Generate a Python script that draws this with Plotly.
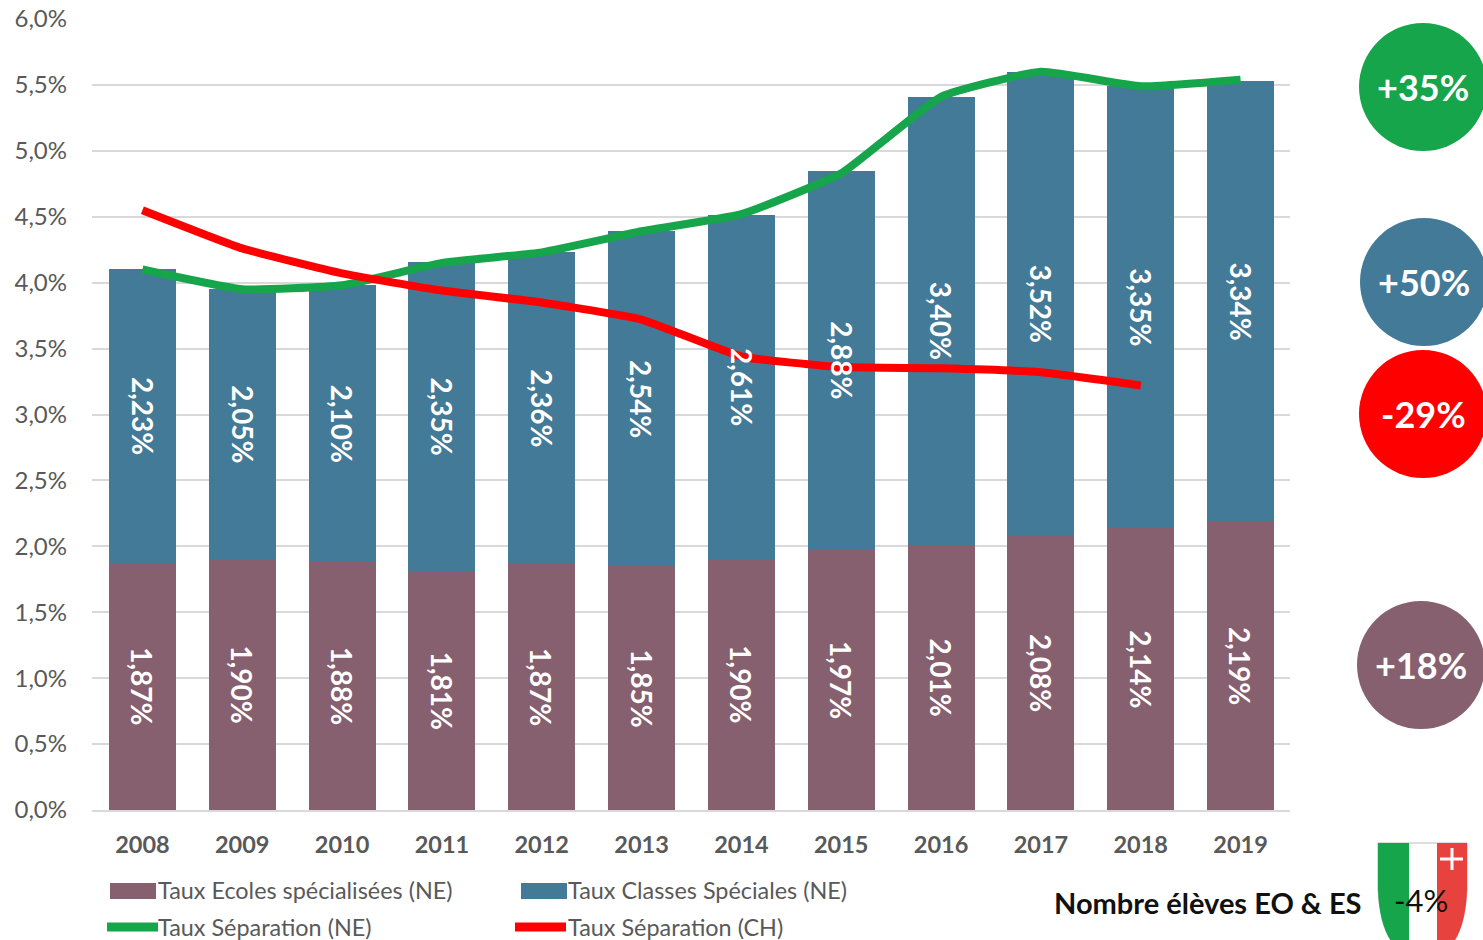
import plotly.graph_objects as go

years = ["2008","2009","2010","2011","2012","2013","2014","2015","2016","2017","2018","2019"]
ecoles = [1.87,1.90,1.88,1.81,1.87,1.85,1.90,1.97,2.01,2.08,2.14,2.19]
classes = [2.23,2.05,2.10,2.35,2.36,2.54,2.61,2.88,3.40,3.52,3.35,3.34]
sep_ne = [4.10,3.95,3.98,4.15,4.23,4.39,4.52,4.83,5.41,5.60,5.49,5.54]
sep_ch = [4.55,4.26,4.07,3.94,3.85,3.72,3.44,3.36,3.35,3.32,3.22]

PURPLE, BLUE, GREEN, RED, GREY = "#86606F", "#437A97", "#17A54C", "#FF0000", "#595959"
FONT = "Lato"
W, H = 1483, 940
L, R, T, B = 92, 1290, 19, 810

def px(x): return (x - L) / (R - L)
def py(y): return (B - y) / (B - T)
def lab(a): return f"{a:.2f}%".replace(".", ",")

fig = go.Figure()
for name, vals, col in [("Taux Ecoles spécialisées (NE)", ecoles, PURPLE), ("Taux Classes Spéciales (NE)", classes, BLUE)]:
    fig.add_bar(x=years, y=vals, name=name, marker=dict(color=col, line_width=0), width=0.67)
for name, vals, col in [("Taux Séparation (NE)", sep_ne, GREEN), ("Taux Séparation (CH)", sep_ch, RED)]:
    fig.add_scatter(x=years[:len(vals)], y=vals, name=name, mode="lines",
                    line=dict(color=col, width=8, shape="spline", smoothing=0.4))

shapes, ann = [], []
def text(x, y, s, size, color, anchor="left", bold=False):
    ann.append(dict(xref="paper", yref="paper", x=px(x), y=py(y), text=f"<b>{s}</b>" if bold else s, showarrow=False,
                    xanchor=anchor, yanchor="middle", font=dict(family=FONT, size=size, color=color)))

# value labels sit above the lines, so they are annotations placed by the data axes
for i, (e, c) in enumerate(zip(ecoles, classes)):
    for mid, v in [(e / 2, e), (e + c / 2, c)]:
        ann.append(dict(xref="x", yref="y", x=i, y=mid, text=f"<b>{lab(v)}</b>", textangle=90, showarrow=False,
                        font=dict(family=FONT, size=28, color="white")))

# circles with evolution figures
for cx, cy, col, s in [(1423, 87, GREEN, "+35%"), (1424, 282, BLUE, "+50%"), (1423, 414, RED, "-29%"), (1421, 665, PURPLE, "+18%")]:
    shapes.append(dict(type="circle", xref="paper", yref="paper", x0=px(cx-64), x1=px(cx+64), y0=py(cy+64), y1=py(cy-64),
                       fillcolor=col, line_width=0))
    text(cx, cy, s, 36, "white", "center", True)

# legend
for x0, y0, col in [(110, 883, PURPLE), (521, 883, BLUE)]:
    shapes.append(dict(type="rect", xref="paper", yref="paper", x0=px(x0), x1=px(x0+46), y0=py(y0+16), y1=py(y0), fillcolor=col, line_width=0))
for x0, yc, col in [(107, 927, GREEN), (515, 927, RED)]:
    shapes.append(dict(type="line", xref="paper", yref="paper", x0=px(x0), x1=px(x0+51), y0=py(yc), y1=py(yc), line=dict(color=col, width=9)))
LEG = 23.4
text(156, 890, "Taux Ecoles spécialisées (NE)", LEG, GREY)
text(566, 890, "Taux Classes Spéciales (NE)", LEG, GREY)
text(156, 927, "Taux Séparation (NE)", LEG, GREY)
text(566, 927, "Taux Séparation (CH)", LEG, GREY)

# shield
def pt(x, y): return f"{px(x):.5f},{py(y):.5f}"
shapes.append(dict(type="path", xref="paper", yref="paper", line=dict(color="#BDBDBD", width=1), fillcolor="white",
    path=f"M{pt(1378,843)} L{pt(1467,843)} L{pt(1467,890)} Q{pt(1465,945)} {pt(1423,960)} Q{pt(1380,945)} {pt(1378,890)} Z"))
shapes.append(dict(type="path", xref="paper", yref="paper", line_width=0, fillcolor=GREEN,
    path=f"M{pt(1378,843)} L{pt(1409,843)} L{pt(1409,955)} Q{pt(1380,945)} {pt(1378,890)} Z"))
shapes.append(dict(type="path", xref="paper", yref="paper", line_width=0, fillcolor="#E8423F",
    path=f"M{pt(1437,843)} L{pt(1467,843)} L{pt(1467,890)} Q{pt(1465,945)} {pt(1437,955)} Z"))
shapes.append(dict(type="line", xref="paper", yref="paper", x0=px(1452), x1=px(1452), y0=py(848), y1=py(870), line=dict(color="white", width=3)))
shapes.append(dict(type="line", xref="paper", yref="paper", x0=px(1440), x1=px(1463), y0=py(859), y1=py(859), line=dict(color="white", width=3)))
text(1052, 902, "Nombre élèves EO &amp; ES", 29, "#111111", "left", True)
text(1421, 900, "-4%", 31, "#111111", "center")

fig.update_layout(
    width=W, height=H, barmode="stack", showlegend=False, plot_bgcolor="white", paper_bgcolor="white",
    margin=dict(l=L, r=W-R, t=T, b=H-B, autoexpand=False), separators=", ",
    shapes=shapes, annotations=ann,
    font=dict(family=FONT, color=GREY),
    xaxis=dict(type="category", range=[-0.505, 11.495], showgrid=False, showline=True, linecolor="#D9D9D9", linewidth=2,
               ticks="", tickfont=dict(family=FONT, size=23.5, color=GREY, weight="bold"), ticklabelstandoff=13),
    yaxis=dict(range=[0, 6], dtick=0.5, tickformat=".1f", ticksuffix="%", showline=False, zeroline=False,
               gridcolor="#D9D9D9", gridwidth=2, ticks="", tickfont=dict(family=FONT, size=24, color=GREY), ticklabelstandoff=24),
)
fig.write_html("out.html", config=dict(displayModeBar=False),
               post_script="document.body.style.margin='0';document.documentElement.style.overflow='hidden';")
